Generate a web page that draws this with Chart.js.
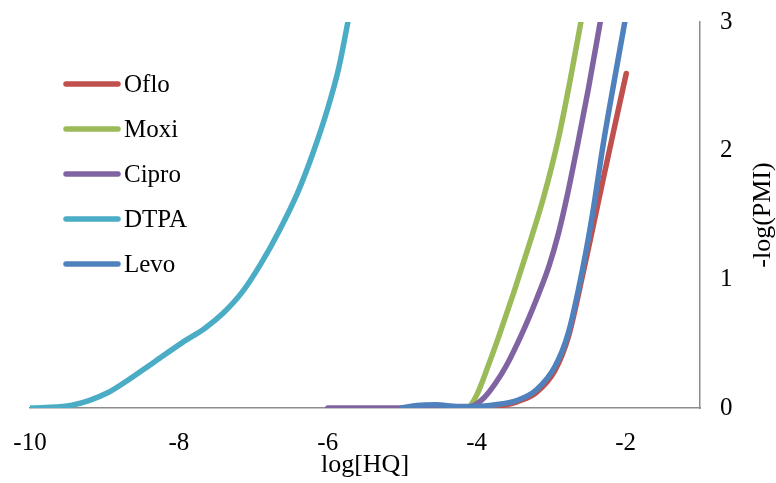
<!DOCTYPE html>
<html>
<head>
<meta charset="utf-8">
<script src="https://cdn.jsdelivr.net/npm/chart.js@4.4.1/dist/chart.umd.min.js"></script>
<style>
  html, body { margin: 0; padding: 0; background: #fff; }
  #wrap { width: 776px; height: 483px; }
</style>
</head>
<body>
<div id="wrap"><canvas id="pmiChart" width="776" height="483"></canvas></div>
<script>
// data: [log[HQ], -log(PMI)]
const seriesNames = ['Oflo', 'Moxi', 'Cipro', 'DTPA', 'Levo'];
const oflo = [[-5.0,0],[-4.7,-0.01],[-4.4,-0.025],[-4.1,-0.02],[-3.8,0.005],[-3.45,0.05],[-3.2,0.12],[-2.95,0.29],[-2.77,0.55],[-2.57,1.05],[-2.44,1.4],[-2.3,1.78],[-2.15,2.18],[-1.99,2.6]];
const moxi = [[-4.8,-0.01],[-4.5,-0.025],[-4.25,-0.015],[-4.12,0],[-4.0,0.1],[-3.85,0.32],[-3.7,0.56],[-3.5,0.9],[-3.3,1.26],[-3.1,1.64],[-2.9,2.1],[-2.75,2.53],[-2.6,3.0],[-2.55,3.16]];
const cipro = [[-6.0,0],[-4.3,0],[-4.08,0.01],[-3.9,0.08],[-3.75,0.19],[-3.6,0.33],[-3.39,0.58],[-3.2,0.84],[-3.03,1.1],[-2.9,1.36],[-2.78,1.66],[-2.64,2.06],[-2.5,2.48],[-2.34,3.0],[-2.3,3.13]];
const dtpa = [[-10,0],[-9.5,0.015],[-9.2,0.06],[-8.95,0.12],[-8.7,0.21],[-8.35,0.35],[-7.95,0.51],[-7.65,0.62],[-7.4,0.74],[-7.15,0.9],[-6.9,1.12],[-6.65,1.38],[-6.4,1.68],[-6.2,1.98],[-6.0,2.33],[-5.85,2.65],[-5.73,3.0],[-5.66,3.22]];
const levo = [[-5.0,0],[-4.8,0.02],[-4.55,0.025],[-4.25,0.012],[-4.0,0.012],[-3.75,0.025],[-3.45,0.06],[-3.2,0.14],[-2.95,0.32],[-2.77,0.58],[-2.57,1.1],[-2.44,1.52],[-2.3,2.05],[-2.15,2.55],[-2.01,3.0],[-1.97,3.13]];
const xTicks = [-10, -8, -6, -4, -2];
const yTicks = [0, 1, 2, 3];
const xTitle = 'log[HQ]';
const yTitle = '-log(PMI)';

const lineColors = ['#C0504D', '#9BBB59', '#8064A2', '#4BACC6', '#4F81BD'];
const serif = "'Liberation Serif', 'Times New Roman', serif";
const axisGray = '#8c8c8c';

const allSeries = [oflo, moxi, cipro, dtpa, levo];

function noPad(scale) {
  scale.paddingLeft = 0;
  scale.paddingRight = 0;
  scale.paddingTop = 0;
  scale.paddingBottom = 0;
}

// legend sits inside the plot, top left
const insideLegend = {
  id: 'insideLegend',
  afterDraw(chart) {
    const c = chart.ctx;
    c.save();
    c.font = '25px ' + serif;
    c.textBaseline = 'middle';
    c.textAlign = 'left';
    chart.data.datasets.forEach(function(ds, i) {
      const y = 84 + i * 45;
      c.strokeStyle = ds.borderColor;
      c.lineWidth = 5.5;
      c.lineCap = 'round';
      c.beginPath();
      c.moveTo(66, y);
      c.lineTo(118, y);
      c.stroke();
      c.fillStyle = '#000';
      c.fillText(ds.label, 124, y + 1);
    });
    c.restore();
  }
};

// right axis title reads bottom to top
const rightTitle = {
  id: 'rightTitle',
  afterDraw(chart) {
    const c = chart.ctx;
    const area = chart.chartArea;
    c.save();
    c.translate(763, (area.top + area.bottom) / 2);
    c.rotate(-Math.PI / 2);
    c.font = '26px ' + serif;
    c.fillStyle = '#000';
    c.textAlign = 'center';
    c.textBaseline = 'middle';
    c.fillText(yTitle, 0, 0);
    c.restore();
  }
};

const ctx = document.getElementById('pmiChart').getContext('2d');
const pmiChart = new Chart(ctx, {
  type: 'line',
  data: {
    datasets: allSeries.map(function(s, i) {
      return {
        label: seriesNames[i],
        data: s.map(function(p) { return { x: p[0], y: p[1] }; }),
        borderColor: lineColors[i],
        backgroundColor: lineColors[i],
        borderWidth: 5.5,
        pointRadius: 0,
        cubicInterpolationMode: 'monotone',
        borderCapStyle: 'round',
        fill: false,
        clip: 0,
        order: allSeries.length - i
      };
    })
  },
  options: {
    responsive: false,
    animation: false,
    devicePixelRatio: 1,
    layout: { padding: { left: 30, top: 22, right: 0, bottom: 0 } },
    plugins: {
      legend: { display: false },
      tooltip: { enabled: false }
    },
    scales: {
      x: {
        type: 'linear',
        position: 'bottom',
        min: -10,
        max: -1,
        afterBuildTicks: function(scale) {
          scale.ticks = xTicks.map(function(v) { return { value: v }; });
        },
        afterFit: function(scale) { scale.height = 75; noPad(scale); },
        grid: { display: false, drawTicks: false, tickLength: 0 },
        border: { display: true, color: axisGray, width: 1.5 },
        ticks: {
          padding: 20,
          maxRotation: 0,
          color: '#000',
          font: { family: serif, size: 25 }
        },
        title: {
          display: true,
          text: xTitle,
          color: '#000',
          font: { family: serif, size: 26 },
          padding: { top: 0, bottom: 2 }
        }
      },
      y: {
        type: 'linear',
        position: 'right',
        min: 0,
        max: 3,
        afterBuildTicks: function(scale) {
          scale.ticks = yTicks.map(function(v) { return { value: v }; });
        },
        afterFit: function(scale) { scale.width = 76; noPad(scale); },
        grid: { display: false, drawTicks: false, tickLength: 0 },
        border: { display: true, color: axisGray, width: 1.5 },
        ticks: {
          padding: 20,
          color: '#000',
          font: { family: serif, size: 25 }
        }
      }
    }
  },
  plugins: [insideLegend, rightTitle]
});
</script>
</body>
</html>
